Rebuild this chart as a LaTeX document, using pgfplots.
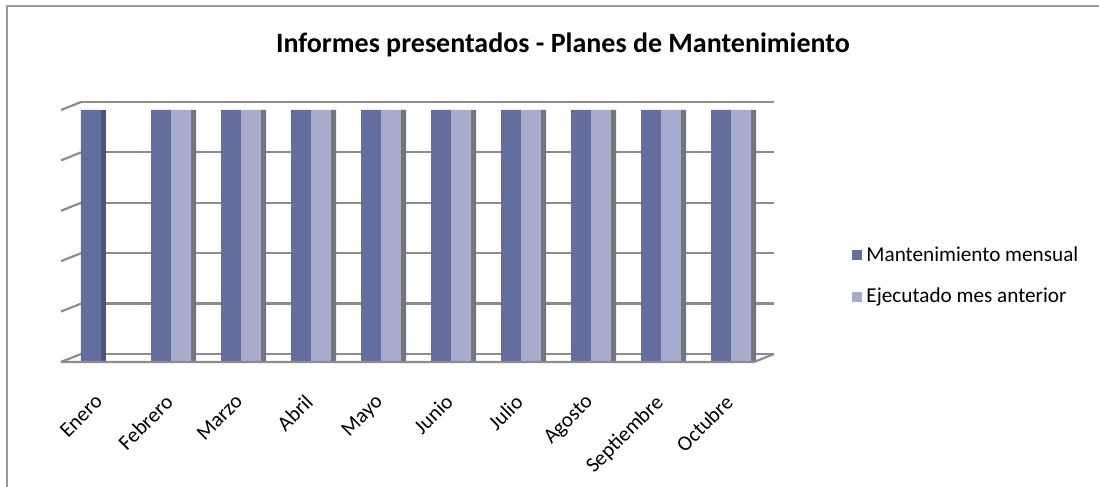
\documentclass[border=0pt]{standalone}
\usepackage{fontspec}
\setmainfont{Carlito}
\usepackage{pgfplots}
\pgfplotsset{compat=1.18}
\definecolor{darkb}{HTML}{646E9E}
\definecolor{lightb}{HTML}{A8ACCC}
\definecolor{sideg}{HTML}{73767F}
\definecolor{sided}{HTML}{4C537A}
\definecolor{gridg}{HTML}{8C8C8C}
\begin{document}
\begin{tikzpicture}
\path[use as bounding box] (0,0) rectangle (549.5pt,243.5pt);
\draw[color=black!40, line width=1pt] (3.25pt,0) -- (3.25pt,240.25pt) -- (549.5pt,240.25pt);
\node[font=\bfseries\fontsize{14}{16}\selectfont] at (281.5pt,221pt) {Informes presentados - Planes de Mantenimiento};
\begin{axis}[
  at={(40.5pt,62.5pt)}, anchor=south west,
  width=346.5pt, height=126pt, scale only axis,
  xmin=-0.2857, xmax=9.614, ymin=0, ymax=1,
  clip=false,
  axis line style={draw=none},
  tick style={draw=none},
  ytick={0,0.2,0.4,0.6,0.8,1},
  yticklabels={},
  ymajorgrids,
  major grid style={gridg, line width=1.1pt, yshift=4pt},
  xtick={0,...,9},
  xticklabels={Enero,Febrero,Marzo,Abril,Mayo,Junio,Julio,Agosto,Septiembre,Octubre},
  xticklabel style={rotate=45, anchor=north east, font=\fontsize{10.6}{12}\selectfont, yshift=-2pt, xshift=-7pt},
  ybar=0pt, bar width=10pt,
  legend image code/.code={\fill[#1] (0pt,-2.5pt) rectangle (5pt,2.5pt);},
  legend style={at={(1.104,0.341)}, anchor=west, draw=none, fill=none,
    font=\fontsize{10.6}{12}\selectfont, row sep=8pt},
  legend cell align=left,
]
% left slashes (3D wall edges)
\addplot[sharp plot, gridg, line width=1.1pt, forget plot] coordinates {(-0.5714,0) (-0.2857,0.0317)};
\addplot[sharp plot, gridg, line width=1.1pt, forget plot] coordinates {(-0.5714,0.2) (-0.2857,0.2317)};
\addplot[sharp plot, gridg, line width=1.1pt, forget plot] coordinates {(-0.5714,0.4) (-0.2857,0.4317)};
\addplot[sharp plot, gridg, line width=1.1pt, forget plot] coordinates {(-0.5714,0.6) (-0.2857,0.6317)};
\addplot[sharp plot, gridg, line width=1.1pt, forget plot] coordinates {(-0.5714,0.8) (-0.2857,0.8317)};
\addplot[sharp plot, gridg, line width=1.1pt, forget plot] coordinates {(-0.5714,1) (-0.2857,1.0317)};
% bars
\addplot[fill=darkb, draw=none, bar shift=-5pt] coordinates {(0,1) (1,1) (2,1) (3,1) (4,1) (5,1) (6,1) (7,1) (8,1) (9,1)};
\addplot[fill=lightb, draw=none, bar shift=5pt] coordinates {(0,0) (1,1) (2,1) (3,1) (4,1) (5,1) (6,1) (7,1) (8,1) (9,1)};
% side faces
\addplot[fill=sided, draw=none, bar shift=1.25pt, bar width=2.5pt, forget plot] coordinates {(0,1)};
\addplot[fill=sideg, draw=none, bar shift=11.25pt, bar width=2.5pt, forget plot] coordinates {(1,1) (2,1) (3,1) (4,1) (5,1) (6,1) (7,1) (8,1) (9,1)};
% front floor edge
\addplot[sharp plot, gridg, line width=1.1pt, forget plot] coordinates {(-0.5714,0) (9.329,0) (9.614,0.0317)};
\legend{Mantenimiento mensual, Ejecutado mes anterior}
\end{axis}
\end{tikzpicture}
\end{document}
